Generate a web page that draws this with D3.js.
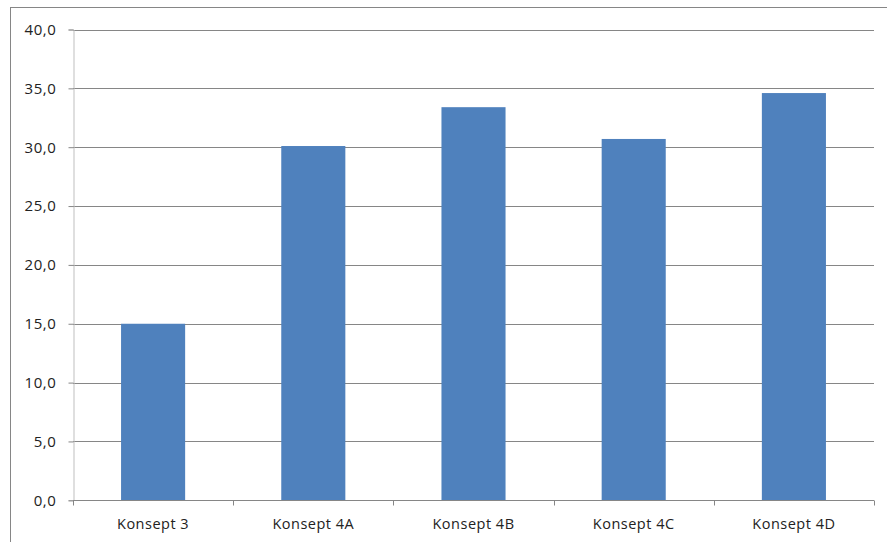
<!DOCTYPE html>
<html><head><meta charset="utf-8">
<script src="https://cdn.jsdelivr.net/npm/d3@7"></script>
<style>body{margin:0;background:#fff;}svg{display:block;}</style>
</head><body>
<script>
const categories = ["Konsept 3","Konsept 4A","Konsept 4B","Konsept 4C","Konsept 4D"];
const values = [15.0, 30.1, 33.4, 30.7, 34.6];
const yTicks = [0,5,10,15,20,25,30,35,40];

const W = 887, H = 542;
const m = {left:73, right:13, top:29.5, bottom:41.7};
const FONT = "'Open Sans', Lato, sans-serif";
const svg = d3.select("body").append("svg").attr("width",W).attr("height",H);

svg.append("rect").attr("x",10.5).attr("y",7.5).attr("width",W).attr("height",H)
  .attr("fill","none").attr("stroke","#868686");

const x = d3.scaleBand().domain(categories).range([m.left, W-m.right]).paddingInner(0.6).paddingOuter(0.3);
const xb = d3.scaleBand().domain(categories).range([m.left, W-m.right]);
const y = d3.scaleLinear().domain([0,40]).range([H-m.bottom, m.top]);
const fmt = d => d3.format(".1f")(d).replace(".",",");

// gridlines
svg.append("g").selectAll("line").data(yTicks.filter(d=>d>0)).join("line")
  .attr("x1",m.left).attr("x2",W-m.right)
  .attr("y1",d=>Math.round(y(d))+0.5).attr("y2",d=>Math.round(y(d))+0.5)
  .attr("stroke","#868686").attr("stroke-width",1);

// bars
svg.append("g").selectAll("rect").data(values).join("rect")
  .attr("x",(d,i)=>x(categories[i])).attr("width",x.bandwidth())
  .attr("y",d=>y(d)).attr("height",d=>y(0)-y(d))
  .attr("fill","#4F81BD");

// y axis
const ya = svg.append("g").attr("transform",`translate(${m.left+0.5},0)`)
  .call(d3.axisLeft(y).tickValues(yTicks).tickFormat(fmt).tickSize(5).tickPadding(12));
ya.select(".domain").attr("stroke","#BFBFBF");
ya.selectAll(".tick line").attr("stroke","#868686");
ya.selectAll("text").attr("font-family",FONT).attr("font-size",15).attr("letter-spacing","0.6px").attr("fill","#222");

// x axis
const xaG = svg.append("g").attr("transform",`translate(0,${Math.round(y(0))+0.5})`);
xaG.append("line").attr("x1",m.left).attr("x2",W-m.right).attr("stroke","#868686");
xaG.selectAll("line.t").data(categories.concat(["_end"])).join("line").attr("class","t")
  .attr("x1",(d,i)=>Math.round(m.left + i*xb.bandwidth())+0.5)
  .attr("x2",(d,i)=>Math.round(m.left + i*xb.bandwidth())+0.5)
  .attr("y1",0).attr("y2",5).attr("stroke","#868686");
xaG.selectAll("text").data(categories).join("text")
  .attr("x",d=>xb(d)+xb.bandwidth()/2).attr("y",28)
  .attr("text-anchor","middle")
  .attr("font-family",FONT).attr("font-size",14.5).attr("letter-spacing","0.5px").attr("fill","#222")
  .text(d=>d);
</script>
</body></html>
